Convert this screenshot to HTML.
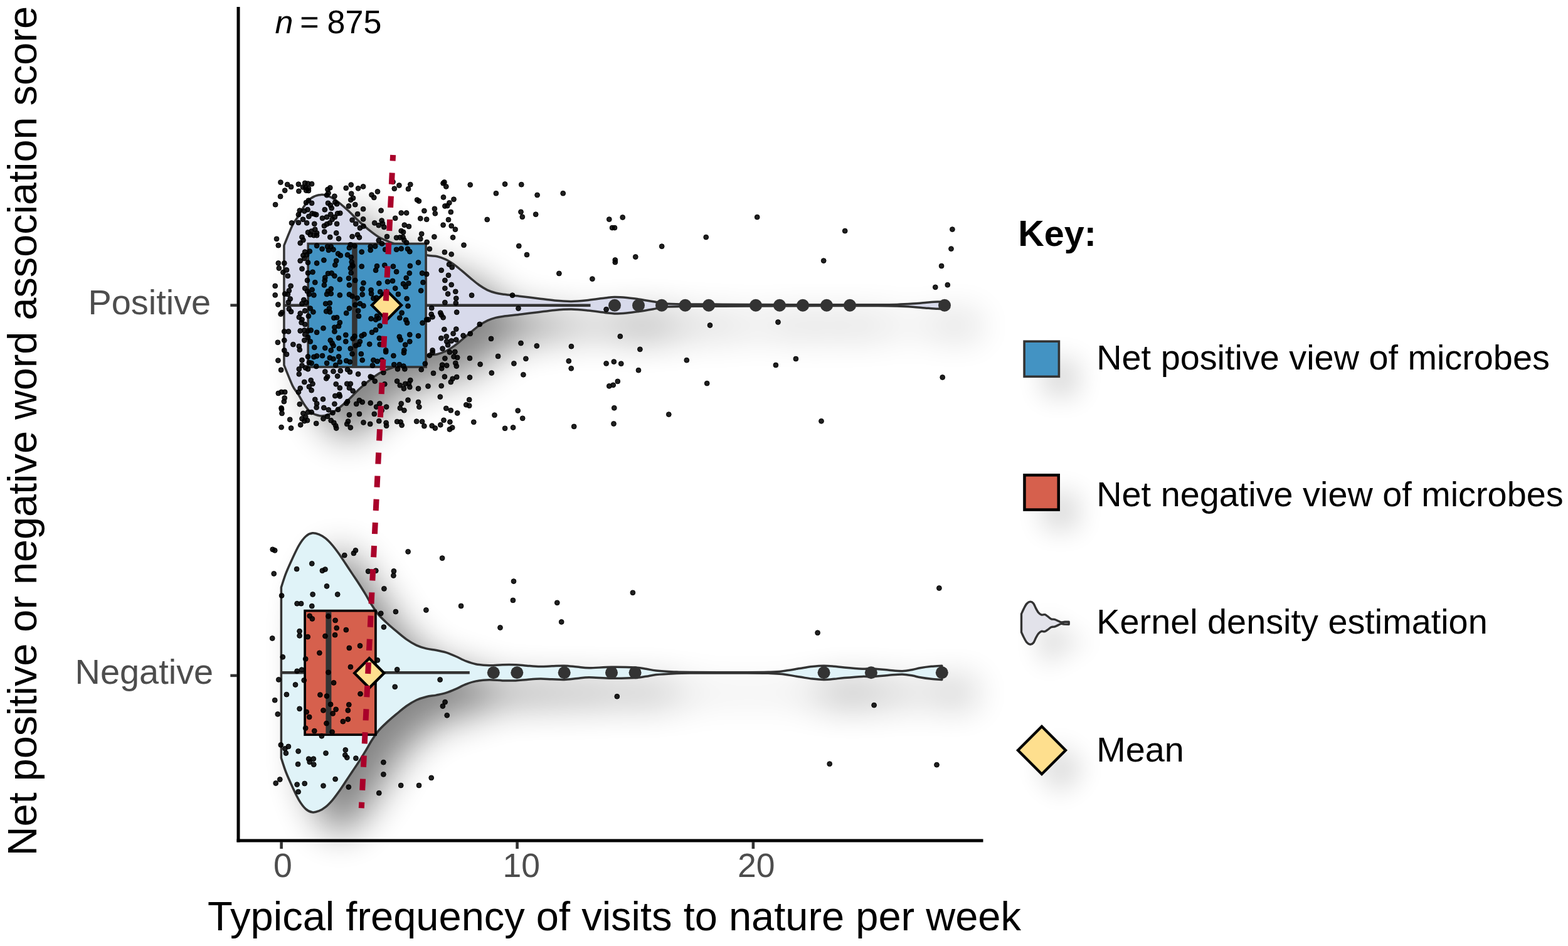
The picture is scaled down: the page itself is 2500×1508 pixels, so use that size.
<!DOCTYPE html><html><head><meta charset="utf-8"><title>Plot</title><style>
html,body{margin:0;padding:0;background:#fff;}body{width:2500px;height:1508px;overflow:hidden;}
svg{display:block;}text{font-family:"Liberation Sans",Arial,Helvetica,sans-serif;}
</style></head><body>
<svg width="2500" height="1508" viewBox="0 0 2500 1508">
<defs>
<filter id="sh" x="-20%" y="-30%" width="150%" height="170%"><feGaussianBlur in="SourceAlpha" stdDeviation="30"/><feOffset dx="40" dy="32" result="b"/><feComponentTransfer><feFuncA type="linear" slope="0.48"/></feComponentTransfer></filter>
<filter id="shl" x="-100%" y="-20%" width="320%" height="150%"><feGaussianBlur in="SourceAlpha" stdDeviation="20"/><feOffset dx="30" dy="30" result="b"/><feComponentTransfer><feFuncA type="linear" slope="0.14"/></feComponentTransfer></filter>
</defs>
<rect width="2500" height="1508" fill="#fff"/>
<g filter="url(#sh)"><path d="M452.9,391.4 C455.1,385.9 462.8,366.3 466.4,358.7 C470.0,351.1 471.6,351.1 474.8,346.0 C478.0,340.9 481.9,333.1 485.4,328.1 C488.9,323.1 491.5,318.9 495.9,316.0 C500.3,313.1 506.7,310.8 511.8,310.4 C516.9,310.0 521.8,311.7 526.5,313.8 C531.2,315.9 535.3,319.0 540.2,322.8 C545.1,326.6 550.7,331.6 556.0,336.5 C561.3,341.4 566.6,347.5 571.9,352.4 C577.2,357.3 582.4,361.9 587.7,366.1 C593.0,370.3 598.3,374.5 603.6,377.7 C608.9,380.9 613.3,382.6 619.4,385.1 C625.5,387.6 633.2,390.3 640.0,392.7 C646.8,395.1 653.2,397.4 660.0,399.7 C666.8,402.0 674.6,405.2 680.7,406.7 C686.8,408.2 691.9,407.6 696.8,408.7 C701.7,409.8 705.7,411.3 710.2,413.4 C714.7,415.5 719.1,418.4 723.6,421.5 C728.1,424.6 732.5,428.5 737.0,432.2 C741.5,435.9 745.9,439.9 750.4,443.6 C754.9,447.3 759.3,451.2 763.7,454.3 C768.1,457.4 772.5,460.2 777.0,462.3 C781.5,464.4 786.0,465.8 790.5,467.0 C795.0,468.2 797.3,468.4 804.0,469.3 C810.7,470.2 821.8,471.3 830.7,472.4 C839.6,473.5 848.6,474.6 857.5,475.7 C866.4,476.8 875.4,478.2 884.3,479.0 C893.2,479.8 902.1,480.5 911.0,480.4 C919.9,480.3 928.9,479.3 937.8,478.4 C946.7,477.5 957.6,475.8 964.6,475.0 C971.6,474.2 973.8,473.6 979.5,473.5 C985.2,473.4 992.5,473.9 999.0,474.5 C1005.5,475.1 1010.8,475.8 1018.4,476.9 C1026.0,478.0 1037.8,480.1 1044.7,481.3 C1051.6,482.5 1052.5,483.5 1060.0,484.1 C1067.5,484.7 1076.7,484.8 1090.0,485.0 C1103.3,485.2 1121.7,485.0 1140.0,485.1 C1158.3,485.2 1173.3,485.4 1200.0,485.5 C1226.7,485.6 1266.7,485.8 1300.0,485.8 C1333.3,485.9 1378.3,485.9 1400.0,485.8 C1421.7,485.7 1420.8,485.7 1430.0,485.4 C1439.2,485.1 1447.5,484.6 1455.0,484.1 C1462.5,483.6 1468.3,483.0 1475.0,482.5 C1481.7,482.0 1489.8,481.3 1495.0,481.1 C1500.2,480.9 1504.2,481.1 1506.0,481.1 L1506.0,492.3 C1504.2,492.3 1500.2,492.5 1495.0,492.3 C1489.8,492.1 1481.7,491.4 1475.0,490.9 C1468.3,490.4 1462.5,489.8 1455.0,489.3 C1447.5,488.8 1439.2,488.3 1430.0,488.0 C1420.8,487.7 1421.7,487.7 1400.0,487.6 C1378.3,487.5 1333.3,487.5 1300.0,487.6 C1266.7,487.6 1226.7,487.8 1200.0,487.9 C1173.3,488.0 1158.3,488.2 1140.0,488.3 C1121.7,488.4 1103.3,488.2 1090.0,488.4 C1076.7,488.6 1067.5,488.7 1060.0,489.3 C1052.5,489.9 1051.6,490.9 1044.7,492.1 C1037.8,493.3 1026.0,495.4 1018.4,496.5 C1010.8,497.6 1005.5,498.3 999.0,498.9 C992.5,499.5 985.2,500.0 979.5,499.9 C973.8,499.8 971.6,499.2 964.6,498.4 C957.6,497.6 946.7,495.9 937.8,495.0 C928.9,494.1 919.9,493.1 911.0,493.0 C902.1,492.9 893.2,493.6 884.3,494.4 C875.4,495.2 866.4,496.6 857.5,497.7 C848.6,498.8 839.6,499.9 830.7,501.0 C821.8,502.1 810.7,503.2 804.0,504.1 C797.3,505.0 795.0,505.2 790.5,506.4 C786.0,507.6 781.5,509.0 777.0,511.1 C772.5,513.2 768.1,516.0 763.7,519.1 C759.3,522.2 754.9,526.1 750.4,529.8 C745.9,533.5 741.5,537.5 737.0,541.2 C732.5,544.9 728.1,548.8 723.6,551.9 C719.1,555.0 714.7,557.9 710.2,560.0 C705.7,562.1 701.7,563.6 696.8,564.7 C691.9,565.8 686.8,565.2 680.7,566.7 C674.6,568.2 666.8,571.4 660.0,573.7 C653.2,576.0 646.8,578.3 640.0,580.7 C633.2,583.1 625.5,585.8 619.4,588.3 C613.3,590.8 608.9,592.5 603.6,595.7 C598.3,598.9 593.0,603.1 587.7,607.3 C582.4,611.5 577.2,616.1 571.9,621.0 C566.6,625.9 561.3,632.0 556.0,636.9 C550.7,641.8 545.1,646.8 540.2,650.6 C535.3,654.4 531.2,657.5 526.5,659.6 C521.8,661.7 516.9,663.4 511.8,663.0 C506.7,662.6 500.3,660.4 495.9,657.4 C491.5,654.4 488.9,650.3 485.4,645.3 C481.9,640.3 478.0,632.5 474.8,627.4 C471.6,622.3 470.0,622.3 466.4,614.7 C462.8,607.1 455.1,587.5 452.9,582.0 Z" fill="#000" stroke="#000" stroke-width="3"/><path d="M448.4,936.3 C449.6,932.6 452.8,921.8 455.8,914.1 C458.8,906.4 462.9,897.4 466.4,889.9 C469.9,882.4 473.4,874.6 476.9,868.8 C480.4,863.0 484.0,858.2 487.5,855.0 C491.0,851.8 494.5,850.3 498.0,849.8 C501.5,849.3 505.1,850.5 508.6,851.9 C512.1,853.3 515.6,855.4 519.1,858.2 C522.6,861.0 526.2,864.8 529.7,868.8 C533.2,872.8 536.7,877.6 540.2,882.5 C543.7,887.4 547.3,893.0 550.8,898.3 C554.3,903.6 557.8,908.8 561.3,914.1 C564.8,919.4 568.4,924.5 571.9,930.0 C575.4,935.5 579.0,941.1 582.5,946.9 C586.0,952.7 589.5,959.3 593.0,964.8 C596.5,970.3 599.8,975.4 603.7,980.0 C607.6,984.6 611.6,988.3 616.4,992.7 C621.1,997.1 626.9,1002.0 632.2,1006.4 C637.5,1010.8 642.7,1015.4 648.0,1019.1 C653.3,1022.8 658.6,1026.1 663.9,1028.6 C669.2,1031.1 674.4,1032.6 679.7,1033.9 C685.0,1035.2 690.2,1035.5 695.5,1036.5 C700.8,1037.5 706.0,1038.5 711.3,1040.2 C716.6,1041.9 721.9,1044.2 727.2,1046.5 C732.5,1048.8 737.7,1051.9 743.0,1053.9 C748.3,1055.9 752.6,1057.5 758.8,1058.7 C765.0,1059.9 773.0,1060.6 780.0,1060.8 C787.0,1061.0 794.0,1059.9 801.0,1059.7 C808.0,1059.5 815.5,1059.5 822.0,1059.7 C828.5,1060.0 833.5,1060.7 840.0,1061.2 C846.5,1061.7 854.6,1062.5 861.3,1062.6 C868.0,1062.7 873.6,1062.0 880.0,1061.8 C886.4,1061.6 893.0,1061.0 899.7,1061.2 C906.4,1061.4 913.4,1062.5 920.0,1063.1 C926.6,1063.7 930.2,1064.8 939.4,1064.8 C948.6,1064.8 962.8,1063.4 975.0,1063.3 C987.2,1063.2 1003.4,1063.5 1012.6,1064.0 C1021.8,1064.5 1024.4,1065.5 1030.0,1066.3 C1035.6,1067.1 1038.6,1068.2 1046.0,1069.0 C1053.4,1069.8 1065.4,1070.5 1074.4,1070.9 C1083.4,1071.3 1080.7,1071.4 1100.0,1071.5 C1119.3,1071.6 1169.2,1071.7 1190.0,1071.7 C1210.8,1071.7 1215.5,1071.6 1225.0,1071.3 C1234.5,1071.0 1238.4,1071.0 1246.8,1070.0 C1255.2,1069.0 1267.2,1066.8 1275.2,1065.5 C1283.2,1064.2 1288.6,1063.2 1295.0,1062.5 C1301.4,1061.8 1307.8,1061.2 1313.6,1061.2 C1319.4,1061.2 1324.6,1061.8 1330.0,1062.3 C1335.4,1062.8 1338.5,1063.3 1346.0,1064.0 C1353.5,1064.7 1367.5,1065.9 1374.7,1066.2 C1381.9,1066.5 1381.8,1065.5 1388.9,1065.8 C1396.0,1066.1 1409.0,1067.6 1417.3,1068.3 C1425.6,1069.0 1432.3,1069.8 1438.6,1069.7 C1444.9,1069.6 1450.3,1068.3 1455.0,1067.5 C1459.7,1066.7 1462.0,1065.7 1467.0,1064.8 C1472.0,1063.9 1479.2,1062.9 1485.0,1062.3 C1490.8,1061.7 1499.0,1061.4 1501.8,1061.2 L1501.8,1083.4 C1499.0,1083.2 1490.8,1082.9 1485.0,1082.3 C1479.2,1081.7 1472.0,1080.7 1467.0,1079.8 C1462.0,1078.9 1459.7,1077.9 1455.0,1077.1 C1450.3,1076.3 1444.9,1075.0 1438.6,1074.9 C1432.3,1074.8 1425.6,1075.6 1417.3,1076.3 C1409.0,1077.0 1396.0,1078.5 1388.9,1078.8 C1381.8,1079.1 1381.9,1078.1 1374.7,1078.4 C1367.5,1078.7 1353.5,1079.9 1346.0,1080.6 C1338.5,1081.2 1335.4,1081.8 1330.0,1082.3 C1324.6,1082.8 1319.4,1083.4 1313.6,1083.4 C1307.8,1083.4 1301.4,1082.8 1295.0,1082.1 C1288.6,1081.4 1283.2,1080.3 1275.2,1079.1 C1267.2,1077.8 1255.2,1075.6 1246.8,1074.6 C1238.4,1073.6 1234.5,1073.6 1225.0,1073.3 C1215.5,1073.0 1210.8,1072.9 1190.0,1072.9 C1169.2,1072.9 1119.3,1073.0 1100.0,1073.1 C1080.7,1073.2 1083.4,1073.3 1074.4,1073.7 C1065.4,1074.1 1053.4,1074.8 1046.0,1075.6 C1038.6,1076.4 1035.6,1077.5 1030.0,1078.3 C1024.4,1079.1 1021.8,1080.1 1012.6,1080.6 C1003.4,1081.1 987.2,1081.4 975.0,1081.3 C962.8,1081.2 948.6,1079.8 939.4,1079.8 C930.2,1079.8 926.6,1080.9 920.0,1081.5 C913.4,1082.1 906.4,1083.2 899.7,1083.4 C893.0,1083.6 886.4,1083.0 880.0,1082.8 C873.6,1082.6 868.0,1081.9 861.3,1082.0 C854.6,1082.1 846.5,1082.9 840.0,1083.4 C833.5,1083.9 828.5,1084.6 822.0,1084.9 C815.5,1085.1 808.0,1085.1 801.0,1084.9 C794.0,1084.7 787.0,1083.6 780.0,1083.8 C773.0,1084.0 765.0,1084.7 758.8,1085.9 C752.6,1087.0 748.3,1088.7 743.0,1090.7 C737.7,1092.7 732.5,1095.8 727.2,1098.1 C721.9,1100.4 716.6,1102.7 711.3,1104.4 C706.0,1106.1 700.8,1107.0 695.5,1108.1 C690.2,1109.1 685.0,1109.4 679.7,1110.7 C674.4,1112.0 669.2,1113.5 663.9,1116.0 C658.6,1118.5 653.3,1121.8 648.0,1125.5 C642.7,1129.2 637.5,1133.8 632.2,1138.2 C626.9,1142.6 621.1,1147.5 616.4,1151.9 C611.6,1156.3 607.6,1159.9 603.7,1164.6 C599.8,1169.2 596.5,1174.3 593.0,1179.8 C589.5,1185.3 586.0,1191.9 582.5,1197.7 C579.0,1203.5 575.4,1209.1 571.9,1214.6 C568.4,1220.1 564.8,1225.2 561.3,1230.5 C557.8,1235.8 554.3,1241.0 550.8,1246.3 C547.3,1251.6 543.7,1257.2 540.2,1262.1 C536.7,1267.0 533.2,1271.8 529.7,1275.8 C526.2,1279.8 522.6,1283.6 519.1,1286.4 C515.6,1289.2 512.1,1291.3 508.6,1292.7 C505.1,1294.1 501.5,1295.3 498.0,1294.8 C494.5,1294.3 491.0,1292.8 487.5,1289.6 C484.0,1286.4 480.4,1281.6 476.9,1275.8 C473.4,1270.0 469.9,1262.2 466.4,1254.7 C462.9,1247.2 458.8,1238.2 455.8,1230.5 C452.8,1222.8 449.6,1212.0 448.4,1208.3 Z" fill="#000" stroke="#000" stroke-width="3"/>
<line x1="679" y1="486.7" x2="1506" y2="486.7" stroke="#000" stroke-width="5"/>
<line x1="599" y1="1072.3" x2="1502" y2="1072.3" stroke="#000" stroke-width="5"/>
<circle cx="980" cy="486.7" r="10"/>
<circle cx="1018" cy="486.7" r="10"/>
<circle cx="1055" cy="486.7" r="10"/>
<circle cx="1092.5" cy="486.7" r="10"/>
<circle cx="1130" cy="486.7" r="10"/>
<circle cx="1205" cy="486.7" r="10"/>
<circle cx="1243" cy="486.7" r="10"/>
<circle cx="1280" cy="486.7" r="10"/>
<circle cx="1318" cy="486.7" r="10"/>
<circle cx="1355" cy="486.7" r="10"/>
<circle cx="1506" cy="486.7" r="10"/>
<circle cx="786.8" cy="1072.3" r="10"/>
<circle cx="824.3" cy="1072.3" r="10"/>
<circle cx="899.7" cy="1072.3" r="10"/>
<circle cx="975" cy="1072.3" r="10"/>
<circle cx="1012.6" cy="1072.3" r="10"/>
<circle cx="1313.6" cy="1072.3" r="10"/>
<circle cx="1388.9" cy="1072.3" r="10"/>
<circle cx="1501.8" cy="1072.3" r="10"/>
</g>
<path d="M452.9,391.4 C455.1,385.9 462.8,366.3 466.4,358.7 C470.0,351.1 471.6,351.1 474.8,346.0 C478.0,340.9 481.9,333.1 485.4,328.1 C488.9,323.1 491.5,318.9 495.9,316.0 C500.3,313.1 506.7,310.8 511.8,310.4 C516.9,310.0 521.8,311.7 526.5,313.8 C531.2,315.9 535.3,319.0 540.2,322.8 C545.1,326.6 550.7,331.6 556.0,336.5 C561.3,341.4 566.6,347.5 571.9,352.4 C577.2,357.3 582.4,361.9 587.7,366.1 C593.0,370.3 598.3,374.5 603.6,377.7 C608.9,380.9 613.3,382.6 619.4,385.1 C625.5,387.6 633.2,390.3 640.0,392.7 C646.8,395.1 653.2,397.4 660.0,399.7 C666.8,402.0 674.6,405.2 680.7,406.7 C686.8,408.2 691.9,407.6 696.8,408.7 C701.7,409.8 705.7,411.3 710.2,413.4 C714.7,415.5 719.1,418.4 723.6,421.5 C728.1,424.6 732.5,428.5 737.0,432.2 C741.5,435.9 745.9,439.9 750.4,443.6 C754.9,447.3 759.3,451.2 763.7,454.3 C768.1,457.4 772.5,460.2 777.0,462.3 C781.5,464.4 786.0,465.8 790.5,467.0 C795.0,468.2 797.3,468.4 804.0,469.3 C810.7,470.2 821.8,471.3 830.7,472.4 C839.6,473.5 848.6,474.6 857.5,475.7 C866.4,476.8 875.4,478.2 884.3,479.0 C893.2,479.8 902.1,480.5 911.0,480.4 C919.9,480.3 928.9,479.3 937.8,478.4 C946.7,477.5 957.6,475.8 964.6,475.0 C971.6,474.2 973.8,473.6 979.5,473.5 C985.2,473.4 992.5,473.9 999.0,474.5 C1005.5,475.1 1010.8,475.8 1018.4,476.9 C1026.0,478.0 1037.8,480.1 1044.7,481.3 C1051.6,482.5 1052.5,483.5 1060.0,484.1 C1067.5,484.7 1076.7,484.8 1090.0,485.0 C1103.3,485.2 1121.7,485.0 1140.0,485.1 C1158.3,485.2 1173.3,485.4 1200.0,485.5 C1226.7,485.6 1266.7,485.8 1300.0,485.8 C1333.3,485.9 1378.3,485.9 1400.0,485.8 C1421.7,485.7 1420.8,485.7 1430.0,485.4 C1439.2,485.1 1447.5,484.6 1455.0,484.1 C1462.5,483.6 1468.3,483.0 1475.0,482.5 C1481.7,482.0 1489.8,481.3 1495.0,481.1 C1500.2,480.9 1504.2,481.1 1506.0,481.1 L1506.0,492.3 C1504.2,492.3 1500.2,492.5 1495.0,492.3 C1489.8,492.1 1481.7,491.4 1475.0,490.9 C1468.3,490.4 1462.5,489.8 1455.0,489.3 C1447.5,488.8 1439.2,488.3 1430.0,488.0 C1420.8,487.7 1421.7,487.7 1400.0,487.6 C1378.3,487.5 1333.3,487.5 1300.0,487.6 C1266.7,487.6 1226.7,487.8 1200.0,487.9 C1173.3,488.0 1158.3,488.2 1140.0,488.3 C1121.7,488.4 1103.3,488.2 1090.0,488.4 C1076.7,488.6 1067.5,488.7 1060.0,489.3 C1052.5,489.9 1051.6,490.9 1044.7,492.1 C1037.8,493.3 1026.0,495.4 1018.4,496.5 C1010.8,497.6 1005.5,498.3 999.0,498.9 C992.5,499.5 985.2,500.0 979.5,499.9 C973.8,499.8 971.6,499.2 964.6,498.4 C957.6,497.6 946.7,495.9 937.8,495.0 C928.9,494.1 919.9,493.1 911.0,493.0 C902.1,492.9 893.2,493.6 884.3,494.4 C875.4,495.2 866.4,496.6 857.5,497.7 C848.6,498.8 839.6,499.9 830.7,501.0 C821.8,502.1 810.7,503.2 804.0,504.1 C797.3,505.0 795.0,505.2 790.5,506.4 C786.0,507.6 781.5,509.0 777.0,511.1 C772.5,513.2 768.1,516.0 763.7,519.1 C759.3,522.2 754.9,526.1 750.4,529.8 C745.9,533.5 741.5,537.5 737.0,541.2 C732.5,544.9 728.1,548.8 723.6,551.9 C719.1,555.0 714.7,557.9 710.2,560.0 C705.7,562.1 701.7,563.6 696.8,564.7 C691.9,565.8 686.8,565.2 680.7,566.7 C674.6,568.2 666.8,571.4 660.0,573.7 C653.2,576.0 646.8,578.3 640.0,580.7 C633.2,583.1 625.5,585.8 619.4,588.3 C613.3,590.8 608.9,592.5 603.6,595.7 C598.3,598.9 593.0,603.1 587.7,607.3 C582.4,611.5 577.2,616.1 571.9,621.0 C566.6,625.9 561.3,632.0 556.0,636.9 C550.7,641.8 545.1,646.8 540.2,650.6 C535.3,654.4 531.2,657.5 526.5,659.6 C521.8,661.7 516.9,663.4 511.8,663.0 C506.7,662.6 500.3,660.4 495.9,657.4 C491.5,654.4 488.9,650.3 485.4,645.3 C481.9,640.3 478.0,632.5 474.8,627.4 C471.6,622.3 470.0,622.3 466.4,614.7 C462.8,607.1 455.1,587.5 452.9,582.0 Z" fill="#D8DAEB" stroke="#333333" stroke-width="3.5" stroke-linejoin="round"/>
<path d="M448.4,936.3 C449.6,932.6 452.8,921.8 455.8,914.1 C458.8,906.4 462.9,897.4 466.4,889.9 C469.9,882.4 473.4,874.6 476.9,868.8 C480.4,863.0 484.0,858.2 487.5,855.0 C491.0,851.8 494.5,850.3 498.0,849.8 C501.5,849.3 505.1,850.5 508.6,851.9 C512.1,853.3 515.6,855.4 519.1,858.2 C522.6,861.0 526.2,864.8 529.7,868.8 C533.2,872.8 536.7,877.6 540.2,882.5 C543.7,887.4 547.3,893.0 550.8,898.3 C554.3,903.6 557.8,908.8 561.3,914.1 C564.8,919.4 568.4,924.5 571.9,930.0 C575.4,935.5 579.0,941.1 582.5,946.9 C586.0,952.7 589.5,959.3 593.0,964.8 C596.5,970.3 599.8,975.4 603.7,980.0 C607.6,984.6 611.6,988.3 616.4,992.7 C621.1,997.1 626.9,1002.0 632.2,1006.4 C637.5,1010.8 642.7,1015.4 648.0,1019.1 C653.3,1022.8 658.6,1026.1 663.9,1028.6 C669.2,1031.1 674.4,1032.6 679.7,1033.9 C685.0,1035.2 690.2,1035.5 695.5,1036.5 C700.8,1037.5 706.0,1038.5 711.3,1040.2 C716.6,1041.9 721.9,1044.2 727.2,1046.5 C732.5,1048.8 737.7,1051.9 743.0,1053.9 C748.3,1055.9 752.6,1057.5 758.8,1058.7 C765.0,1059.9 773.0,1060.6 780.0,1060.8 C787.0,1061.0 794.0,1059.9 801.0,1059.7 C808.0,1059.5 815.5,1059.5 822.0,1059.7 C828.5,1060.0 833.5,1060.7 840.0,1061.2 C846.5,1061.7 854.6,1062.5 861.3,1062.6 C868.0,1062.7 873.6,1062.0 880.0,1061.8 C886.4,1061.6 893.0,1061.0 899.7,1061.2 C906.4,1061.4 913.4,1062.5 920.0,1063.1 C926.6,1063.7 930.2,1064.8 939.4,1064.8 C948.6,1064.8 962.8,1063.4 975.0,1063.3 C987.2,1063.2 1003.4,1063.5 1012.6,1064.0 C1021.8,1064.5 1024.4,1065.5 1030.0,1066.3 C1035.6,1067.1 1038.6,1068.2 1046.0,1069.0 C1053.4,1069.8 1065.4,1070.5 1074.4,1070.9 C1083.4,1071.3 1080.7,1071.4 1100.0,1071.5 C1119.3,1071.6 1169.2,1071.7 1190.0,1071.7 C1210.8,1071.7 1215.5,1071.6 1225.0,1071.3 C1234.5,1071.0 1238.4,1071.0 1246.8,1070.0 C1255.2,1069.0 1267.2,1066.8 1275.2,1065.5 C1283.2,1064.2 1288.6,1063.2 1295.0,1062.5 C1301.4,1061.8 1307.8,1061.2 1313.6,1061.2 C1319.4,1061.2 1324.6,1061.8 1330.0,1062.3 C1335.4,1062.8 1338.5,1063.3 1346.0,1064.0 C1353.5,1064.7 1367.5,1065.9 1374.7,1066.2 C1381.9,1066.5 1381.8,1065.5 1388.9,1065.8 C1396.0,1066.1 1409.0,1067.6 1417.3,1068.3 C1425.6,1069.0 1432.3,1069.8 1438.6,1069.7 C1444.9,1069.6 1450.3,1068.3 1455.0,1067.5 C1459.7,1066.7 1462.0,1065.7 1467.0,1064.8 C1472.0,1063.9 1479.2,1062.9 1485.0,1062.3 C1490.8,1061.7 1499.0,1061.4 1501.8,1061.2 L1501.8,1083.4 C1499.0,1083.2 1490.8,1082.9 1485.0,1082.3 C1479.2,1081.7 1472.0,1080.7 1467.0,1079.8 C1462.0,1078.9 1459.7,1077.9 1455.0,1077.1 C1450.3,1076.3 1444.9,1075.0 1438.6,1074.9 C1432.3,1074.8 1425.6,1075.6 1417.3,1076.3 C1409.0,1077.0 1396.0,1078.5 1388.9,1078.8 C1381.8,1079.1 1381.9,1078.1 1374.7,1078.4 C1367.5,1078.7 1353.5,1079.9 1346.0,1080.6 C1338.5,1081.2 1335.4,1081.8 1330.0,1082.3 C1324.6,1082.8 1319.4,1083.4 1313.6,1083.4 C1307.8,1083.4 1301.4,1082.8 1295.0,1082.1 C1288.6,1081.4 1283.2,1080.3 1275.2,1079.1 C1267.2,1077.8 1255.2,1075.6 1246.8,1074.6 C1238.4,1073.6 1234.5,1073.6 1225.0,1073.3 C1215.5,1073.0 1210.8,1072.9 1190.0,1072.9 C1169.2,1072.9 1119.3,1073.0 1100.0,1073.1 C1080.7,1073.2 1083.4,1073.3 1074.4,1073.7 C1065.4,1074.1 1053.4,1074.8 1046.0,1075.6 C1038.6,1076.4 1035.6,1077.5 1030.0,1078.3 C1024.4,1079.1 1021.8,1080.1 1012.6,1080.6 C1003.4,1081.1 987.2,1081.4 975.0,1081.3 C962.8,1081.2 948.6,1079.8 939.4,1079.8 C930.2,1079.8 926.6,1080.9 920.0,1081.5 C913.4,1082.1 906.4,1083.2 899.7,1083.4 C893.0,1083.6 886.4,1083.0 880.0,1082.8 C873.6,1082.6 868.0,1081.9 861.3,1082.0 C854.6,1082.1 846.5,1082.9 840.0,1083.4 C833.5,1083.9 828.5,1084.6 822.0,1084.9 C815.5,1085.1 808.0,1085.1 801.0,1084.9 C794.0,1084.7 787.0,1083.6 780.0,1083.8 C773.0,1084.0 765.0,1084.7 758.8,1085.9 C752.6,1087.0 748.3,1088.7 743.0,1090.7 C737.7,1092.7 732.5,1095.8 727.2,1098.1 C721.9,1100.4 716.6,1102.7 711.3,1104.4 C706.0,1106.1 700.8,1107.0 695.5,1108.1 C690.2,1109.1 685.0,1109.4 679.7,1110.7 C674.4,1112.0 669.2,1113.5 663.9,1116.0 C658.6,1118.5 653.3,1121.8 648.0,1125.5 C642.7,1129.2 637.5,1133.8 632.2,1138.2 C626.9,1142.6 621.1,1147.5 616.4,1151.9 C611.6,1156.3 607.6,1159.9 603.7,1164.6 C599.8,1169.2 596.5,1174.3 593.0,1179.8 C589.5,1185.3 586.0,1191.9 582.5,1197.7 C579.0,1203.5 575.4,1209.1 571.9,1214.6 C568.4,1220.1 564.8,1225.2 561.3,1230.5 C557.8,1235.8 554.3,1241.0 550.8,1246.3 C547.3,1251.6 543.7,1257.2 540.2,1262.1 C536.7,1267.0 533.2,1271.8 529.7,1275.8 C526.2,1279.8 522.6,1283.6 519.1,1286.4 C515.6,1289.2 512.1,1291.3 508.6,1292.7 C505.1,1294.1 501.5,1295.3 498.0,1294.8 C494.5,1294.3 491.0,1292.8 487.5,1289.6 C484.0,1286.4 480.4,1281.6 476.9,1275.8 C473.4,1270.0 469.9,1262.2 466.4,1254.7 C462.9,1247.2 458.8,1238.2 455.8,1230.5 C452.8,1222.8 449.6,1212.0 448.4,1208.3 Z" fill="#E0F3F8" stroke="#333333" stroke-width="3.5" stroke-linejoin="round"/>
<line x1="453" y1="486.7" x2="491" y2="486.7" stroke="#333" stroke-width="4.5"/>
<line x1="679" y1="486.7" x2="941.5" y2="486.7" stroke="#333" stroke-width="4.5"/>
<line x1="448.4" y1="1072.3" x2="486" y2="1072.3" stroke="#333" stroke-width="4.5"/>
<line x1="599" y1="1072.3" x2="748.8" y2="1072.3" stroke="#333" stroke-width="4.5"/>
<rect x="491.2" y="388.5" width="187.9" height="196.5" fill="#4393C3" stroke="#333" stroke-width="3.6"/>
<line x1="565.4" y1="390.3" x2="565.4" y2="583.2" stroke="#333" stroke-width="8.5"/>
<rect x="486.1" y="973.6" width="112.8" height="197.6" fill="#D6604D" stroke="#000" stroke-width="3.7"/>
<line x1="523.9" y1="975.4" x2="523.9" y2="1169.4" stroke="#333" stroke-width="9"/>
<circle cx="980" cy="486.7" r="10" fill="#333"/>
<circle cx="1018" cy="486.7" r="10" fill="#333"/>
<circle cx="1055" cy="486.7" r="10" fill="#333"/>
<circle cx="1092.5" cy="486.7" r="10" fill="#333"/>
<circle cx="1130" cy="486.7" r="10" fill="#333"/>
<circle cx="1205" cy="486.7" r="10" fill="#333"/>
<circle cx="1243" cy="486.7" r="10" fill="#333"/>
<circle cx="1280" cy="486.7" r="10" fill="#333"/>
<circle cx="1318" cy="486.7" r="10" fill="#333"/>
<circle cx="1355" cy="486.7" r="10" fill="#333"/>
<circle cx="1506" cy="486.7" r="10" fill="#333"/>
<circle cx="786.8" cy="1072.3" r="10" fill="#333"/>
<circle cx="824.3" cy="1072.3" r="10" fill="#333"/>
<circle cx="899.7" cy="1072.3" r="10" fill="#333"/>
<circle cx="975" cy="1072.3" r="10" fill="#333"/>
<circle cx="1012.6" cy="1072.3" r="10" fill="#333"/>
<circle cx="1313.6" cy="1072.3" r="10" fill="#333"/>
<circle cx="1388.9" cy="1072.3" r="10" fill="#333"/>
<circle cx="1501.8" cy="1072.3" r="10" fill="#333"/>
<g fill="#000" fill-opacity="0.88" stroke="#000" stroke-width="1">
<circle cx="447.4" cy="290.6" r="3.9"/>
<circle cx="458.2" cy="294.1" r="3.9"/>
<circle cx="464.1" cy="297.9" r="3.9"/>
<circle cx="454.2" cy="303.6" r="3.9"/>
<circle cx="475.9" cy="293.7" r="3.9"/>
<circle cx="476.4" cy="304.7" r="3.9"/>
<circle cx="486.2" cy="291.8" r="3.9"/>
<circle cx="491.0" cy="292.7" r="3.9"/>
<circle cx="483.0" cy="298.4" r="3.9"/>
<circle cx="487.2" cy="298.8" r="3.9"/>
<circle cx="491.9" cy="300.3" r="3.9"/>
<circle cx="488.1" cy="303.6" r="3.9"/>
<circle cx="491.9" cy="304.0" r="3.9"/>
<circle cx="497.1" cy="293.2" r="3.9"/>
<circle cx="447.1" cy="313.2" r="3.9"/>
<circle cx="439.1" cy="326.2" r="3.9"/>
<circle cx="526.3" cy="299.3" r="3.9"/>
<circle cx="522.5" cy="302.1" r="3.9"/>
<circle cx="523.5" cy="307.8" r="3.9"/>
<circle cx="521.1" cy="311.1" r="3.9"/>
<circle cx="533.4" cy="312.8" r="3.9"/>
<circle cx="551.7" cy="299.8" r="3.9"/>
<circle cx="559.7" cy="294.6" r="3.9"/>
<circle cx="571.1" cy="300.3" r="3.9"/>
<circle cx="579.1" cy="297.4" r="3.9"/>
<circle cx="560.2" cy="308.7" r="3.9"/>
<circle cx="563.0" cy="315.8" r="3.9"/>
<circle cx="559.3" cy="318.6" r="3.9"/>
<circle cx="566.3" cy="326.2" r="3.9"/>
<circle cx="556.0" cy="328.5" r="3.9"/>
<circle cx="579.1" cy="333.2" r="3.9"/>
<circle cx="570.1" cy="341.2" r="3.9"/>
<circle cx="579.1" cy="349.3" r="3.9"/>
<circle cx="491.9" cy="319.6" r="3.9"/>
<circle cx="497.1" cy="323.8" r="3.9"/>
<circle cx="488.1" cy="322.9" r="3.9"/>
<circle cx="523.0" cy="323.8" r="3.9"/>
<circle cx="526.8" cy="327.1" r="3.9"/>
<circle cx="537.1" cy="325.2" r="3.9"/>
<circle cx="534.3" cy="322.4" r="3.9"/>
<circle cx="517.8" cy="334.2" r="3.9"/>
<circle cx="528.7" cy="331.8" r="3.9"/>
<circle cx="477.8" cy="335.6" r="3.9"/>
<circle cx="485.3" cy="336.5" r="3.9"/>
<circle cx="490.5" cy="334.2" r="3.9"/>
<circle cx="475.9" cy="342.2" r="3.9"/>
<circle cx="497.6" cy="340.3" r="3.9"/>
<circle cx="504.2" cy="342.2" r="3.9"/>
<circle cx="492.4" cy="345.0" r="3.9"/>
<circle cx="501.3" cy="341.2" r="3.9"/>
<circle cx="514.0" cy="347.8" r="3.9"/>
<circle cx="521.1" cy="346.0" r="3.9"/>
<circle cx="527.2" cy="341.7" r="3.9"/>
<circle cx="533.8" cy="346.0" r="3.9"/>
<circle cx="538.1" cy="340.3" r="3.9"/>
<circle cx="542.3" cy="339.8" r="3.9"/>
<circle cx="529.6" cy="349.7" r="3.9"/>
<circle cx="525.8" cy="355.4" r="3.9"/>
<circle cx="521.1" cy="357.3" r="3.9"/>
<circle cx="516.9" cy="360.1" r="3.9"/>
<circle cx="537.1" cy="356.8" r="3.9"/>
<circle cx="483.0" cy="349.7" r="3.9"/>
<circle cx="489.1" cy="355.4" r="3.9"/>
<circle cx="475.9" cy="354.9" r="3.9"/>
<circle cx="465.0" cy="355.4" r="3.9"/>
<circle cx="501.3" cy="356.8" r="3.9"/>
<circle cx="491.0" cy="370.5" r="3.9"/>
<circle cx="496.6" cy="368.6" r="3.9"/>
<circle cx="502.3" cy="365.7" r="3.9"/>
<circle cx="505.1" cy="371.4" r="3.9"/>
<circle cx="500.4" cy="375.2" r="3.9"/>
<circle cx="494.7" cy="374.2" r="3.9"/>
<circle cx="505.1" cy="375.2" r="3.9"/>
<circle cx="481.5" cy="378.0" r="3.9"/>
<circle cx="483.4" cy="382.7" r="3.9"/>
<circle cx="478.7" cy="387.4" r="3.9"/>
<circle cx="517.3" cy="369.5" r="3.9"/>
<circle cx="526.3" cy="378.0" r="3.9"/>
<circle cx="536.2" cy="371.4" r="3.9"/>
<circle cx="540.0" cy="380.4" r="3.9"/>
<circle cx="561.6" cy="350.7" r="3.9"/>
<circle cx="567.3" cy="356.8" r="3.9"/>
<circle cx="573.9" cy="363.4" r="3.9"/>
<circle cx="579.5" cy="360.6" r="3.9"/>
<circle cx="561.6" cy="377.1" r="3.9"/>
<circle cx="570.1" cy="374.2" r="3.9"/>
<circle cx="572.9" cy="378.5" r="3.9"/>
<circle cx="441.0" cy="380.8" r="3.9"/>
<circle cx="443.8" cy="391.2" r="3.9"/>
<circle cx="505.1" cy="391.7" r="3.9"/>
<circle cx="513.6" cy="396.8" r="3.9"/>
<circle cx="522.1" cy="393.1" r="3.9"/>
<circle cx="527.7" cy="393.1" r="3.9"/>
<circle cx="523.9" cy="398.7" r="3.9"/>
<circle cx="531.5" cy="397.8" r="3.9"/>
<circle cx="558.8" cy="390.2" r="3.9"/>
<circle cx="565.4" cy="392.1" r="3.9"/>
<circle cx="556.9" cy="395.0" r="3.9"/>
<circle cx="576.7" cy="401.6" r="3.9"/>
<circle cx="539.0" cy="404.4" r="3.9"/>
<circle cx="542.8" cy="407.2" r="3.9"/>
<circle cx="554.1" cy="406.3" r="3.9"/>
<circle cx="559.7" cy="410.0" r="3.9"/>
<circle cx="486.2" cy="401.6" r="3.9"/>
<circle cx="493.8" cy="400.6" r="3.9"/>
<circle cx="483.4" cy="407.2" r="3.9"/>
<circle cx="489.1" cy="406.3" r="3.9"/>
<circle cx="485.3" cy="411.9" r="3.9"/>
<circle cx="516.4" cy="414.7" r="3.9"/>
<circle cx="536.2" cy="415.7" r="3.9"/>
<circle cx="560.7" cy="417.6" r="3.9"/>
<circle cx="478.7" cy="415.7" r="3.9"/>
<circle cx="443.8" cy="419.5" r="3.9"/>
<circle cx="453.3" cy="419.5" r="3.9"/>
<circle cx="505.1" cy="419.5" r="3.9"/>
<circle cx="491.0" cy="418.5" r="3.9"/>
<circle cx="626.5" cy="289.9" r="3.9"/>
<circle cx="636.4" cy="295.5" r="3.9"/>
<circle cx="628.8" cy="300.7" r="3.9"/>
<circle cx="654.3" cy="294.1" r="3.9"/>
<circle cx="651.0" cy="301.2" r="3.9"/>
<circle cx="602.0" cy="305.4" r="3.9"/>
<circle cx="592.5" cy="310.6" r="3.9"/>
<circle cx="596.3" cy="314.9" r="3.9"/>
<circle cx="708.4" cy="290.4" r="3.9"/>
<circle cx="706.6" cy="292.2" r="3.9"/>
<circle cx="711.3" cy="297.4" r="3.9"/>
<circle cx="665.1" cy="318.6" r="3.9"/>
<circle cx="667.9" cy="320.5" r="3.9"/>
<circle cx="707.0" cy="314.4" r="3.9"/>
<circle cx="723.5" cy="317.7" r="3.9"/>
<circle cx="716.4" cy="323.3" r="3.9"/>
<circle cx="709.4" cy="328.5" r="3.9"/>
<circle cx="713.2" cy="328.1" r="3.9"/>
<circle cx="718.8" cy="338.0" r="3.9"/>
<circle cx="607.6" cy="335.6" r="3.9"/>
<circle cx="639.7" cy="339.4" r="3.9"/>
<circle cx="648.1" cy="339.4" r="3.9"/>
<circle cx="676.4" cy="336.1" r="3.9"/>
<circle cx="692.9" cy="332.8" r="3.9"/>
<circle cx="693.8" cy="340.3" r="3.9"/>
<circle cx="630.2" cy="347.8" r="3.9"/>
<circle cx="670.3" cy="348.3" r="3.9"/>
<circle cx="680.2" cy="349.7" r="3.9"/>
<circle cx="715.0" cy="350.2" r="3.9"/>
<circle cx="597.2" cy="355.4" r="3.9"/>
<circle cx="608.6" cy="351.6" r="3.9"/>
<circle cx="603.8" cy="359.2" r="3.9"/>
<circle cx="610.0" cy="356.3" r="3.9"/>
<circle cx="612.3" cy="362.0" r="3.9"/>
<circle cx="644.8" cy="358.7" r="3.9"/>
<circle cx="651.9" cy="361.0" r="3.9"/>
<circle cx="706.6" cy="358.7" r="3.9"/>
<circle cx="719.7" cy="360.1" r="3.9"/>
<circle cx="725.9" cy="365.7" r="3.9"/>
<circle cx="639.7" cy="368.1" r="3.9"/>
<circle cx="643.0" cy="370.0" r="3.9"/>
<circle cx="672.2" cy="372.8" r="3.9"/>
<circle cx="692.4" cy="377.5" r="3.9"/>
<circle cx="722.1" cy="378.5" r="3.9"/>
<circle cx="617.0" cy="377.1" r="3.9"/>
<circle cx="632.1" cy="378.9" r="3.9"/>
<circle cx="637.8" cy="378.5" r="3.9"/>
<circle cx="642.5" cy="378.0" r="3.9"/>
<circle cx="644.4" cy="382.7" r="3.9"/>
<circle cx="648.1" cy="386.9" r="3.9"/>
<circle cx="670.3" cy="380.8" r="3.9"/>
<circle cx="680.6" cy="386.0" r="3.9"/>
<circle cx="603.8" cy="383.2" r="3.9"/>
<circle cx="609.0" cy="388.4" r="3.9"/>
<circle cx="739.5" cy="390.7" r="3.9"/>
<circle cx="684.9" cy="396.8" r="3.9"/>
<circle cx="708.9" cy="402.0" r="3.9"/>
<circle cx="719.7" cy="405.3" r="3.9"/>
<circle cx="590.7" cy="393.1" r="3.9"/>
<circle cx="598.2" cy="392.6" r="3.9"/>
<circle cx="590.7" cy="398.7" r="3.9"/>
<circle cx="614.2" cy="397.8" r="3.9"/>
<circle cx="632.1" cy="397.8" r="3.9"/>
<circle cx="639.7" cy="396.4" r="3.9"/>
<circle cx="650.0" cy="396.8" r="3.9"/>
<circle cx="653.3" cy="401.1" r="3.9"/>
<circle cx="667.0" cy="418.5" r="3.9"/>
<circle cx="534.3" cy="422.4" r="3.9"/>
<circle cx="561.6" cy="422.4" r="3.9"/>
<circle cx="576.7" cy="424.7" r="3.9"/>
<circle cx="438.7" cy="455.8" r="3.9"/>
<circle cx="438.7" cy="470.4" r="3.9"/>
<circle cx="443.4" cy="485.5" r="3.9"/>
<circle cx="447.6" cy="500.6" r="3.9"/>
<circle cx="449.5" cy="498.2" r="3.9"/>
<circle cx="442.9" cy="545.8" r="3.9"/>
<circle cx="444.8" cy="427.5" r="3.9"/>
<circle cx="451.4" cy="434.1" r="3.9"/>
<circle cx="457.0" cy="430.4" r="3.9"/>
<circle cx="458.9" cy="439.8" r="3.9"/>
<circle cx="463.6" cy="455.8" r="3.9"/>
<circle cx="460.8" cy="463.3" r="3.9"/>
<circle cx="454.2" cy="468.5" r="3.9"/>
<circle cx="458.9" cy="469.0" r="3.9"/>
<circle cx="462.7" cy="476.5" r="3.9"/>
<circle cx="459.9" cy="481.7" r="3.9"/>
<circle cx="460.8" cy="492.6" r="3.9"/>
<circle cx="464.1" cy="496.8" r="3.9"/>
<circle cx="453.3" cy="528.4" r="3.9"/>
<circle cx="459.9" cy="528.4" r="3.9"/>
<circle cx="453.3" cy="542.5" r="3.9"/>
<circle cx="453.3" cy="558.5" r="3.9"/>
<circle cx="481.5" cy="428.5" r="3.9"/>
<circle cx="491.0" cy="435.1" r="3.9"/>
<circle cx="498.5" cy="433.7" r="3.9"/>
<circle cx="490.0" cy="446.9" r="3.9"/>
<circle cx="486.2" cy="459.6" r="3.9"/>
<circle cx="490.0" cy="464.3" r="3.9"/>
<circle cx="497.6" cy="461.9" r="3.9"/>
<circle cx="492.8" cy="469.0" r="3.9"/>
<circle cx="500.4" cy="470.4" r="3.9"/>
<circle cx="484.4" cy="478.0" r="3.9"/>
<circle cx="488.1" cy="482.2" r="3.9"/>
<circle cx="481.5" cy="484.1" r="3.9"/>
<circle cx="478.7" cy="499.6" r="3.9"/>
<circle cx="486.2" cy="495.4" r="3.9"/>
<circle cx="491.9" cy="503.9" r="3.9"/>
<circle cx="476.8" cy="505.7" r="3.9"/>
<circle cx="481.5" cy="509.5" r="3.9"/>
<circle cx="480.6" cy="514.2" r="3.9"/>
<circle cx="486.2" cy="517.1" r="3.9"/>
<circle cx="478.7" cy="527.4" r="3.9"/>
<circle cx="485.3" cy="526.5" r="3.9"/>
<circle cx="491.0" cy="527.4" r="3.9"/>
<circle cx="495.7" cy="526.5" r="3.9"/>
<circle cx="486.2" cy="533.1" r="3.9"/>
<circle cx="491.0" cy="537.8" r="3.9"/>
<circle cx="485.3" cy="542.5" r="3.9"/>
<circle cx="494.7" cy="544.4" r="3.9"/>
<circle cx="467.4" cy="549.1" r="3.9"/>
<circle cx="476.8" cy="551.9" r="3.9"/>
<circle cx="477.8" cy="557.6" r="3.9"/>
<circle cx="502.3" cy="450.2" r="3.9"/>
<circle cx="523.0" cy="436.0" r="3.9"/>
<circle cx="528.7" cy="435.5" r="3.9"/>
<circle cx="533.4" cy="439.8" r="3.9"/>
<circle cx="541.8" cy="445.4" r="3.9"/>
<circle cx="518.3" cy="442.6" r="3.9"/>
<circle cx="517.8" cy="447.3" r="3.9"/>
<circle cx="516.9" cy="454.4" r="3.9"/>
<circle cx="527.7" cy="460.5" r="3.9"/>
<circle cx="523.0" cy="464.3" r="3.9"/>
<circle cx="521.1" cy="469.0" r="3.9"/>
<circle cx="527.7" cy="468.1" r="3.9"/>
<circle cx="541.8" cy="470.4" r="3.9"/>
<circle cx="519.2" cy="484.1" r="3.9"/>
<circle cx="525.8" cy="483.1" r="3.9"/>
<circle cx="524.9" cy="491.6" r="3.9"/>
<circle cx="520.2" cy="496.3" r="3.9"/>
<circle cx="525.8" cy="497.3" r="3.9"/>
<circle cx="494.7" cy="491.6" r="3.9"/>
<circle cx="499.4" cy="497.3" r="3.9"/>
<circle cx="532.4" cy="506.7" r="3.9"/>
<circle cx="537.1" cy="506.2" r="3.9"/>
<circle cx="541.8" cy="514.2" r="3.9"/>
<circle cx="540.0" cy="519.9" r="3.9"/>
<circle cx="533.4" cy="521.8" r="3.9"/>
<circle cx="533.4" cy="528.4" r="3.9"/>
<circle cx="515.5" cy="523.2" r="3.9"/>
<circle cx="505.1" cy="529.8" r="3.9"/>
<circle cx="551.3" cy="534.0" r="3.9"/>
<circle cx="540.0" cy="538.7" r="3.9"/>
<circle cx="526.8" cy="542.5" r="3.9"/>
<circle cx="529.6" cy="547.2" r="3.9"/>
<circle cx="531.5" cy="551.0" r="3.9"/>
<circle cx="551.3" cy="544.4" r="3.9"/>
<circle cx="501.3" cy="553.8" r="3.9"/>
<circle cx="518.3" cy="554.7" r="3.9"/>
<circle cx="540.9" cy="555.7" r="3.9"/>
<circle cx="527.7" cy="558.5" r="3.9"/>
<circle cx="558.8" cy="427.5" r="3.9"/>
<circle cx="562.6" cy="423.8" r="3.9"/>
<circle cx="559.7" cy="435.1" r="3.9"/>
<circle cx="556.0" cy="443.6" r="3.9"/>
<circle cx="566.3" cy="446.9" r="3.9"/>
<circle cx="556.9" cy="454.4" r="3.9"/>
<circle cx="556.9" cy="469.5" r="3.9"/>
<circle cx="561.6" cy="472.3" r="3.9"/>
<circle cx="569.6" cy="475.1" r="3.9"/>
<circle cx="579.5" cy="451.1" r="3.9"/>
<circle cx="577.7" cy="460.5" r="3.9"/>
<circle cx="577.7" cy="469.5" r="3.9"/>
<circle cx="566.3" cy="486.0" r="3.9"/>
<circle cx="573.9" cy="484.1" r="3.9"/>
<circle cx="579.5" cy="487.4" r="3.9"/>
<circle cx="556.9" cy="491.6" r="3.9"/>
<circle cx="552.2" cy="499.2" r="3.9"/>
<circle cx="571.1" cy="495.4" r="3.9"/>
<circle cx="572.0" cy="503.9" r="3.9"/>
<circle cx="562.6" cy="539.7" r="3.9"/>
<circle cx="565.4" cy="535.9" r="3.9"/>
<circle cx="576.7" cy="535.4" r="3.9"/>
<circle cx="580.5" cy="533.1" r="3.9"/>
<circle cx="573.9" cy="544.4" r="3.9"/>
<circle cx="567.3" cy="551.0" r="3.9"/>
<circle cx="572.0" cy="549.1" r="3.9"/>
<circle cx="558.8" cy="555.7" r="3.9"/>
<circle cx="601.0" cy="424.2" r="3.9"/>
<circle cx="613.3" cy="422.8" r="3.9"/>
<circle cx="626.9" cy="424.7" r="3.9"/>
<circle cx="653.8" cy="423.8" r="3.9"/>
<circle cx="716.0" cy="421.4" r="3.9"/>
<circle cx="720.7" cy="426.1" r="3.9"/>
<circle cx="599.1" cy="430.8" r="3.9"/>
<circle cx="632.1" cy="433.2" r="3.9"/>
<circle cx="652.8" cy="435.5" r="3.9"/>
<circle cx="673.1" cy="435.5" r="3.9"/>
<circle cx="680.2" cy="437.0" r="3.9"/>
<circle cx="647.7" cy="443.1" r="3.9"/>
<circle cx="703.7" cy="430.8" r="3.9"/>
<circle cx="715.0" cy="438.8" r="3.9"/>
<circle cx="709.4" cy="446.9" r="3.9"/>
<circle cx="719.7" cy="453.9" r="3.9"/>
<circle cx="604.3" cy="451.6" r="3.9"/>
<circle cx="618.0" cy="449.2" r="3.9"/>
<circle cx="626.0" cy="447.8" r="3.9"/>
<circle cx="643.0" cy="452.5" r="3.9"/>
<circle cx="651.4" cy="451.6" r="3.9"/>
<circle cx="646.7" cy="457.2" r="3.9"/>
<circle cx="674.5" cy="450.2" r="3.9"/>
<circle cx="671.2" cy="463.3" r="3.9"/>
<circle cx="591.6" cy="462.4" r="3.9"/>
<circle cx="592.1" cy="468.1" r="3.9"/>
<circle cx="606.2" cy="465.2" r="3.9"/>
<circle cx="595.4" cy="475.6" r="3.9"/>
<circle cx="600.1" cy="474.7" r="3.9"/>
<circle cx="630.2" cy="459.6" r="3.9"/>
<circle cx="634.9" cy="469.0" r="3.9"/>
<circle cx="648.6" cy="476.1" r="3.9"/>
<circle cx="709.4" cy="459.6" r="3.9"/>
<circle cx="714.1" cy="468.5" r="3.9"/>
<circle cx="726.3" cy="464.8" r="3.9"/>
<circle cx="727.3" cy="475.6" r="3.9"/>
<circle cx="709.4" cy="482.2" r="3.9"/>
<circle cx="726.8" cy="483.1" r="3.9"/>
<circle cx="650.5" cy="487.8" r="3.9"/>
<circle cx="688.2" cy="491.1" r="3.9"/>
<circle cx="728.2" cy="497.7" r="3.9"/>
<circle cx="640.6" cy="498.7" r="3.9"/>
<circle cx="637.3" cy="506.7" r="3.9"/>
<circle cx="647.2" cy="510.0" r="3.9"/>
<circle cx="649.1" cy="514.7" r="3.9"/>
<circle cx="591.6" cy="508.1" r="3.9"/>
<circle cx="601.0" cy="503.9" r="3.9"/>
<circle cx="599.1" cy="509.5" r="3.9"/>
<circle cx="603.8" cy="507.2" r="3.9"/>
<circle cx="673.6" cy="514.7" r="3.9"/>
<circle cx="680.2" cy="509.5" r="3.9"/>
<circle cx="683.0" cy="509.5" r="3.9"/>
<circle cx="687.7" cy="501.0" r="3.9"/>
<circle cx="689.6" cy="505.3" r="3.9"/>
<circle cx="702.3" cy="498.7" r="3.9"/>
<circle cx="706.6" cy="506.2" r="3.9"/>
<circle cx="703.7" cy="502.0" r="3.9"/>
<circle cx="605.7" cy="519.4" r="3.9"/>
<circle cx="599.1" cy="526.0" r="3.9"/>
<circle cx="593.0" cy="529.8" r="3.9"/>
<circle cx="604.8" cy="539.2" r="3.9"/>
<circle cx="589.2" cy="548.6" r="3.9"/>
<circle cx="605.7" cy="549.1" r="3.9"/>
<circle cx="636.8" cy="536.8" r="3.9"/>
<circle cx="638.7" cy="541.6" r="3.9"/>
<circle cx="653.3" cy="533.5" r="3.9"/>
<circle cx="667.0" cy="535.4" r="3.9"/>
<circle cx="653.3" cy="544.4" r="3.9"/>
<circle cx="646.2" cy="549.6" r="3.9"/>
<circle cx="708.4" cy="525.1" r="3.9"/>
<circle cx="727.3" cy="524.6" r="3.9"/>
<circle cx="722.6" cy="531.7" r="3.9"/>
<circle cx="738.6" cy="535.0" r="3.9"/>
<circle cx="703.3" cy="539.2" r="3.9"/>
<circle cx="711.7" cy="536.4" r="3.9"/>
<circle cx="712.2" cy="544.4" r="3.9"/>
<circle cx="719.7" cy="543.4" r="3.9"/>
<circle cx="727.3" cy="541.6" r="3.9"/>
<circle cx="714.1" cy="550.0" r="3.9"/>
<circle cx="705.6" cy="555.7" r="3.9"/>
<circle cx="615.2" cy="558.5" r="3.9"/>
<circle cx="644.4" cy="558.5" r="3.9"/>
<circle cx="689.6" cy="558.5" r="3.9"/>
<circle cx="443.4" cy="574.6" r="3.9"/>
<circle cx="448.1" cy="589.7" r="3.9"/>
<circle cx="457.0" cy="564.7" r="3.9"/>
<circle cx="500.4" cy="569.0" r="3.9"/>
<circle cx="505.1" cy="567.5" r="3.9"/>
<circle cx="514.0" cy="567.1" r="3.9"/>
<circle cx="521.1" cy="578.8" r="3.9"/>
<circle cx="525.8" cy="570.4" r="3.9"/>
<circle cx="531.5" cy="572.2" r="3.9"/>
<circle cx="540.0" cy="568.5" r="3.9"/>
<circle cx="541.8" cy="577.0" r="3.9"/>
<circle cx="535.2" cy="582.1" r="3.9"/>
<circle cx="552.2" cy="575.1" r="3.9"/>
<circle cx="557.9" cy="577.0" r="3.9"/>
<circle cx="561.6" cy="564.2" r="3.9"/>
<circle cx="575.8" cy="564.2" r="3.9"/>
<circle cx="577.7" cy="574.1" r="3.9"/>
<circle cx="491.0" cy="568.5" r="3.9"/>
<circle cx="492.8" cy="577.9" r="3.9"/>
<circle cx="496.6" cy="578.8" r="3.9"/>
<circle cx="481.5" cy="574.1" r="3.9"/>
<circle cx="481.5" cy="582.6" r="3.9"/>
<circle cx="476.8" cy="588.3" r="3.9"/>
<circle cx="476.8" cy="596.3" r="3.9"/>
<circle cx="491.0" cy="588.3" r="3.9"/>
<circle cx="487.2" cy="586.4" r="3.9"/>
<circle cx="504.2" cy="584.0" r="3.9"/>
<circle cx="518.3" cy="592.5" r="3.9"/>
<circle cx="522.1" cy="600.5" r="3.9"/>
<circle cx="520.2" cy="603.3" r="3.9"/>
<circle cx="531.5" cy="592.0" r="3.9"/>
<circle cx="538.1" cy="599.6" r="3.9"/>
<circle cx="542.8" cy="591.1" r="3.9"/>
<circle cx="554.1" cy="589.2" r="3.9"/>
<circle cx="557.9" cy="593.0" r="3.9"/>
<circle cx="571.1" cy="596.3" r="3.9"/>
<circle cx="485.3" cy="609.0" r="3.9"/>
<circle cx="495.7" cy="606.2" r="3.9"/>
<circle cx="498.5" cy="611.8" r="3.9"/>
<circle cx="492.8" cy="616.5" r="3.9"/>
<circle cx="496.6" cy="622.2" r="3.9"/>
<circle cx="478.7" cy="618.9" r="3.9"/>
<circle cx="475.9" cy="625.0" r="3.9"/>
<circle cx="535.7" cy="612.3" r="3.9"/>
<circle cx="541.8" cy="618.4" r="3.9"/>
<circle cx="553.2" cy="611.8" r="3.9"/>
<circle cx="558.8" cy="611.8" r="3.9"/>
<circle cx="556.9" cy="618.4" r="3.9"/>
<circle cx="562.6" cy="623.1" r="3.9"/>
<circle cx="580.5" cy="611.4" r="3.9"/>
<circle cx="534.3" cy="631.1" r="3.9"/>
<circle cx="540.9" cy="628.8" r="3.9"/>
<circle cx="541.8" cy="631.6" r="3.9"/>
<circle cx="443.8" cy="626.9" r="3.9"/>
<circle cx="448.6" cy="625.0" r="3.9"/>
<circle cx="454.2" cy="625.0" r="3.9"/>
<circle cx="453.7" cy="634.4" r="3.9"/>
<circle cx="452.8" cy="640.1" r="3.9"/>
<circle cx="448.6" cy="650.5" r="3.9"/>
<circle cx="449.5" cy="658.9" r="3.9"/>
<circle cx="449.0" cy="652.3" r="3.9"/>
<circle cx="477.8" cy="644.3" r="3.9"/>
<circle cx="502.3" cy="636.8" r="3.9"/>
<circle cx="505.1" cy="643.4" r="3.9"/>
<circle cx="504.6" cy="649.5" r="3.9"/>
<circle cx="515.0" cy="636.3" r="3.9"/>
<circle cx="533.4" cy="643.9" r="3.9"/>
<circle cx="516.4" cy="650.0" r="3.9"/>
<circle cx="523.9" cy="653.3" r="3.9"/>
<circle cx="530.5" cy="658.0" r="3.9"/>
<circle cx="539.0" cy="652.8" r="3.9"/>
<circle cx="554.1" cy="640.1" r="3.9"/>
<circle cx="552.2" cy="642.9" r="3.9"/>
<circle cx="568.2" cy="643.9" r="3.9"/>
<circle cx="572.9" cy="638.2" r="3.9"/>
<circle cx="577.7" cy="641.0" r="3.9"/>
<circle cx="483.4" cy="658.9" r="3.9"/>
<circle cx="491.0" cy="657.1" r="3.9"/>
<circle cx="496.6" cy="657.1" r="3.9"/>
<circle cx="481.5" cy="667.4" r="3.9"/>
<circle cx="487.2" cy="664.6" r="3.9"/>
<circle cx="490.0" cy="670.2" r="3.9"/>
<circle cx="485.3" cy="671.2" r="3.9"/>
<circle cx="515.5" cy="667.4" r="3.9"/>
<circle cx="522.1" cy="663.7" r="3.9"/>
<circle cx="527.7" cy="670.2" r="3.9"/>
<circle cx="532.4" cy="674.0" r="3.9"/>
<circle cx="535.2" cy="678.7" r="3.9"/>
<circle cx="536.2" cy="682.5" r="3.9"/>
<circle cx="556.9" cy="661.3" r="3.9"/>
<circle cx="572.9" cy="659.9" r="3.9"/>
<circle cx="555.0" cy="671.7" r="3.9"/>
<circle cx="553.2" cy="675.9" r="3.9"/>
<circle cx="558.8" cy="681.6" r="3.9"/>
<circle cx="579.5" cy="673.5" r="3.9"/>
<circle cx="462.2" cy="668.8" r="3.9"/>
<circle cx="479.2" cy="677.3" r="3.9"/>
<circle cx="504.2" cy="675.0" r="3.9"/>
<circle cx="448.6" cy="681.1" r="3.9"/>
<circle cx="464.1" cy="682.5" r="3.9"/>
<circle cx="615.2" cy="560.9" r="3.9"/>
<circle cx="643.9" cy="562.4" r="3.9"/>
<circle cx="627.4" cy="567.1" r="3.9"/>
<circle cx="595.4" cy="574.1" r="3.9"/>
<circle cx="601.5" cy="576.0" r="3.9"/>
<circle cx="609.0" cy="574.1" r="3.9"/>
<circle cx="594.0" cy="582.6" r="3.9"/>
<circle cx="628.3" cy="581.2" r="3.9"/>
<circle cx="636.8" cy="581.2" r="3.9"/>
<circle cx="643.4" cy="583.6" r="3.9"/>
<circle cx="677.8" cy="579.8" r="3.9"/>
<circle cx="684.9" cy="566.6" r="3.9"/>
<circle cx="689.6" cy="561.9" r="3.9"/>
<circle cx="709.4" cy="571.3" r="3.9"/>
<circle cx="723.5" cy="568.5" r="3.9"/>
<circle cx="729.2" cy="569.9" r="3.9"/>
<circle cx="716.9" cy="561.4" r="3.9"/>
<circle cx="725.4" cy="560.9" r="3.9"/>
<circle cx="634.0" cy="588.3" r="3.9"/>
<circle cx="645.3" cy="588.3" r="3.9"/>
<circle cx="671.7" cy="589.2" r="3.9"/>
<circle cx="611.4" cy="593.9" r="3.9"/>
<circle cx="590.7" cy="600.5" r="3.9"/>
<circle cx="593.0" cy="601.5" r="3.9"/>
<circle cx="597.7" cy="607.6" r="3.9"/>
<circle cx="705.1" cy="581.7" r="3.9"/>
<circle cx="712.2" cy="582.6" r="3.9"/>
<circle cx="704.2" cy="587.3" r="3.9"/>
<circle cx="726.3" cy="578.8" r="3.9"/>
<circle cx="727.8" cy="583.6" r="3.9"/>
<circle cx="691.0" cy="594.9" r="3.9"/>
<circle cx="708.9" cy="600.5" r="3.9"/>
<circle cx="728.2" cy="601.0" r="3.9"/>
<circle cx="721.6" cy="603.8" r="3.9"/>
<circle cx="718.8" cy="609.0" r="3.9"/>
<circle cx="633.1" cy="607.6" r="3.9"/>
<circle cx="637.8" cy="614.2" r="3.9"/>
<circle cx="643.9" cy="619.4" r="3.9"/>
<circle cx="646.2" cy="611.8" r="3.9"/>
<circle cx="654.3" cy="606.2" r="3.9"/>
<circle cx="653.3" cy="617.0" r="3.9"/>
<circle cx="651.9" cy="611.4" r="3.9"/>
<circle cx="613.3" cy="612.3" r="3.9"/>
<circle cx="667.0" cy="619.4" r="3.9"/>
<circle cx="682.5" cy="615.6" r="3.9"/>
<circle cx="703.7" cy="615.1" r="3.9"/>
<circle cx="701.8" cy="632.6" r="3.9"/>
<circle cx="650.5" cy="637.7" r="3.9"/>
<circle cx="667.0" cy="641.0" r="3.9"/>
<circle cx="668.4" cy="648.6" r="3.9"/>
<circle cx="639.7" cy="643.4" r="3.9"/>
<circle cx="637.8" cy="650.5" r="3.9"/>
<circle cx="644.4" cy="654.2" r="3.9"/>
<circle cx="590.7" cy="642.4" r="3.9"/>
<circle cx="605.3" cy="643.4" r="3.9"/>
<circle cx="600.1" cy="648.6" r="3.9"/>
<circle cx="616.1" cy="648.6" r="3.9"/>
<circle cx="596.8" cy="659.9" r="3.9"/>
<circle cx="608.6" cy="654.2" r="3.9"/>
<circle cx="711.3" cy="650.9" r="3.9"/>
<circle cx="718.8" cy="654.2" r="3.9"/>
<circle cx="729.2" cy="658.5" r="3.9"/>
<circle cx="743.3" cy="645.3" r="3.9"/>
<circle cx="590.2" cy="675.9" r="3.9"/>
<circle cx="604.3" cy="671.2" r="3.9"/>
<circle cx="615.6" cy="674.0" r="3.9"/>
<circle cx="616.1" cy="678.7" r="3.9"/>
<circle cx="633.1" cy="672.1" r="3.9"/>
<circle cx="638.7" cy="672.6" r="3.9"/>
<circle cx="640.6" cy="677.8" r="3.9"/>
<circle cx="664.2" cy="671.7" r="3.9"/>
<circle cx="673.1" cy="672.1" r="3.9"/>
<circle cx="676.4" cy="679.2" r="3.9"/>
<circle cx="688.7" cy="678.7" r="3.9"/>
<circle cx="693.8" cy="682.5" r="3.9"/>
<circle cx="702.3" cy="677.3" r="3.9"/>
<circle cx="707.5" cy="669.8" r="3.9"/>
<circle cx="717.4" cy="672.6" r="3.9"/>
<circle cx="716.9" cy="684.4" r="3.9"/>
<circle cx="721.2" cy="681.6" r="3.9"/>
<circle cx="749.7" cy="294.6" r="3.9"/>
<circle cx="805.1" cy="293.5" r="3.9"/>
<circle cx="831.3" cy="294.2" r="3.9"/>
<circle cx="790.9" cy="308.2" r="3.9"/>
<circle cx="856.6" cy="310.9" r="3.9"/>
<circle cx="897.7" cy="308.2" r="3.9"/>
<circle cx="830.5" cy="337.8" r="3.9"/>
<circle cx="832.8" cy="345.7" r="3.9"/>
<circle cx="854.2" cy="341.7" r="3.9"/>
<circle cx="776.7" cy="350.0" r="3.9"/>
<circle cx="971.3" cy="349.6" r="3.9"/>
<circle cx="992.7" cy="346.5" r="3.9"/>
<circle cx="976.1" cy="363.1" r="3.9"/>
<circle cx="980.0" cy="363.1" r="3.9"/>
<circle cx="1125.7" cy="378.1" r="3.9"/>
<circle cx="1055.2" cy="392.7" r="3.9"/>
<circle cx="827.3" cy="392.1" r="3.9"/>
<circle cx="840.0" cy="406.1" r="3.9"/>
<circle cx="980.8" cy="414.5" r="3.9"/>
<circle cx="980.8" cy="418.0" r="3.9"/>
<circle cx="1013.3" cy="409.5" r="3.9"/>
<circle cx="891.4" cy="435.9" r="3.9"/>
<circle cx="944.4" cy="444.6" r="3.9"/>
<circle cx="752.1" cy="470.7" r="3.9"/>
<circle cx="817.0" cy="470.7" r="3.9"/>
<circle cx="826.5" cy="491.6" r="3.9"/>
<circle cx="966.6" cy="493.2" r="3.9"/>
<circle cx="764.8" cy="516.9" r="3.9"/>
<circle cx="749.7" cy="531.9" r="3.9"/>
<circle cx="783.0" cy="539.9" r="3.9"/>
<circle cx="830.5" cy="547.0" r="3.9"/>
<circle cx="855.8" cy="551.4" r="3.9"/>
<circle cx="910.9" cy="552.2" r="3.9"/>
<circle cx="988.8" cy="536.2" r="3.9"/>
<circle cx="1020.4" cy="556.8" r="3.9"/>
<circle cx="1132.0" cy="518.5" r="3.9"/>
<circle cx="749.0" cy="571.0" r="3.9"/>
<circle cx="794.1" cy="567.9" r="3.9"/>
<circle cx="838.4" cy="571.8" r="3.9"/>
<circle cx="765.6" cy="580.7" r="3.9"/>
<circle cx="819.4" cy="579.4" r="3.9"/>
<circle cx="906.8" cy="575.5" r="3.9"/>
<circle cx="910.7" cy="587.3" r="3.9"/>
<circle cx="966.6" cy="579.4" r="3.9"/>
<circle cx="978.8" cy="576.6" r="3.9"/>
<circle cx="990.3" cy="579.7" r="3.9"/>
<circle cx="1018.0" cy="590.2" r="3.9"/>
<circle cx="1094.8" cy="574.2" r="3.9"/>
<circle cx="783.8" cy="594.5" r="3.9"/>
<circle cx="834.4" cy="597.3" r="3.9"/>
<circle cx="749.0" cy="601.6" r="3.9"/>
<circle cx="984.8" cy="607.9" r="3.9"/>
<circle cx="977.7" cy="613.8" r="3.9"/>
<circle cx="971.3" cy="615.4" r="3.9"/>
<circle cx="1127.2" cy="611.1" r="3.9"/>
<circle cx="748.2" cy="637.2" r="3.9"/>
<circle cx="748.2" cy="646.7" r="3.9"/>
<circle cx="825.7" cy="654.6" r="3.9"/>
<circle cx="788.5" cy="661.7" r="3.9"/>
<circle cx="833.2" cy="666.8" r="3.9"/>
<circle cx="755.3" cy="672.8" r="3.9"/>
<circle cx="805.1" cy="682.8" r="3.9"/>
<circle cx="818.1" cy="681.5" r="3.9"/>
<circle cx="915.2" cy="679.9" r="3.9"/>
<circle cx="979.3" cy="650.3" r="3.9"/>
<circle cx="978.5" cy="675.5" r="3.9"/>
<circle cx="1066.3" cy="660.6" r="3.9"/>
<circle cx="1207.2" cy="346.1" r="3.9"/>
<circle cx="1347.2" cy="368.1" r="3.9"/>
<circle cx="1313.2" cy="415.6" r="3.9"/>
<circle cx="1518.4" cy="365.6" r="3.9"/>
<circle cx="1516.5" cy="396.6" r="3.9"/>
<circle cx="1501.1" cy="424.0" r="3.9"/>
<circle cx="1491.3" cy="457.8" r="3.9"/>
<circle cx="1510.8" cy="454.2" r="3.9"/>
<circle cx="1240.5" cy="513.5" r="3.9"/>
<circle cx="1268.9" cy="572.0" r="3.9"/>
<circle cx="1236.9" cy="582.0" r="3.9"/>
<circle cx="1502.7" cy="601.5" r="3.9"/>
<circle cx="1309.5" cy="671.3" r="3.9"/>
<circle cx="434.7" cy="875.8" r="3.9"/>
<circle cx="438.2" cy="877.4" r="3.9"/>
<circle cx="436.7" cy="914.5" r="3.9"/>
<circle cx="449.1" cy="949.5" r="3.9"/>
<circle cx="473.1" cy="907.1" r="3.9"/>
<circle cx="497.3" cy="898.4" r="3.9"/>
<circle cx="513.9" cy="909.7" r="3.9"/>
<circle cx="518.5" cy="907.6" r="3.9"/>
<circle cx="521.0" cy="934.4" r="3.9"/>
<circle cx="498.6" cy="947.5" r="3.9"/>
<circle cx="538.2" cy="947.5" r="3.9"/>
<circle cx="473.6" cy="962.2" r="3.9"/>
<circle cx="480.1" cy="962.2" r="3.9"/>
<circle cx="497.3" cy="966.2" r="3.9"/>
<circle cx="549.3" cy="885.2" r="3.9"/>
<circle cx="563.9" cy="881.9" r="3.9"/>
<circle cx="566.9" cy="877.4" r="3.9"/>
<circle cx="587.1" cy="910.7" r="3.9"/>
<circle cx="599.3" cy="909.7" r="3.9"/>
<circle cx="612.4" cy="938.4" r="3.9"/>
<circle cx="607.3" cy="977.8" r="3.9"/>
<circle cx="493.7" cy="981.8" r="3.9"/>
<circle cx="497.8" cy="986.4" r="3.9"/>
<circle cx="523.5" cy="982.4" r="3.9"/>
<circle cx="534.6" cy="988.9" r="3.9"/>
<circle cx="434.2" cy="1017.5" r="3.9"/>
<circle cx="477.6" cy="1006.2" r="3.9"/>
<circle cx="477.6" cy="1013.4" r="3.9"/>
<circle cx="490.7" cy="1015.2" r="3.9"/>
<circle cx="518.5" cy="1014.0" r="3.9"/>
<circle cx="534.1" cy="1012.2" r="3.9"/>
<circle cx="536.7" cy="1001.1" r="3.9"/>
<circle cx="551.8" cy="1004.1" r="3.9"/>
<circle cx="611.9" cy="999.6" r="3.9"/>
<circle cx="556.8" cy="1032.9" r="3.9"/>
<circle cx="574.0" cy="1029.4" r="3.9"/>
<circle cx="509.4" cy="1040.8" r="3.9"/>
<circle cx="450.8" cy="1047.3" r="3.9"/>
<circle cx="487.2" cy="1050.4" r="3.9"/>
<circle cx="601.8" cy="1052.4" r="3.9"/>
<circle cx="473.6" cy="1069.8" r="3.9"/>
<circle cx="481.1" cy="1067.7" r="3.9"/>
<circle cx="558.9" cy="1063.2" r="3.9"/>
<circle cx="523.5" cy="1071.8" r="3.9"/>
<circle cx="444.3" cy="1083.4" r="3.9"/>
<circle cx="484.7" cy="1084.4" r="3.9"/>
<circle cx="471.0" cy="1091.5" r="3.9"/>
<circle cx="532.1" cy="1088.4" r="3.9"/>
<circle cx="456.9" cy="1107.1" r="3.9"/>
<circle cx="510.4" cy="1107.6" r="3.9"/>
<circle cx="521.0" cy="1109.6" r="3.9"/>
<circle cx="574.5" cy="1106.1" r="3.9"/>
<circle cx="438.2" cy="1116.2" r="3.9"/>
<circle cx="527.1" cy="1122.8" r="3.9"/>
<circle cx="556.3" cy="1123.3" r="3.9"/>
<circle cx="535.6" cy="1130.8" r="3.9"/>
<circle cx="554.8" cy="1132.4" r="3.9"/>
<circle cx="515.5" cy="1132.4" r="3.9"/>
<circle cx="477.6" cy="1129.8" r="3.9"/>
<circle cx="488.7" cy="1134.9" r="3.9"/>
<circle cx="442.8" cy="1138.4" r="3.9"/>
<circle cx="530.6" cy="1137.4" r="3.9"/>
<circle cx="493.2" cy="1143.0" r="3.9"/>
<circle cx="554.8" cy="1146.6" r="3.9"/>
<circle cx="546.8" cy="1150.1" r="3.9"/>
<circle cx="520.5" cy="1153.1" r="3.9"/>
<circle cx="487.2" cy="1160.7" r="3.9"/>
<circle cx="501.3" cy="1165.2" r="3.9"/>
<circle cx="529.6" cy="1166.8" r="3.9"/>
<circle cx="512.9" cy="1173.3" r="3.9"/>
<circle cx="447.8" cy="1187.5" r="3.9"/>
<circle cx="459.9" cy="1190.0" r="3.9"/>
<circle cx="454.4" cy="1193.5" r="3.9"/>
<circle cx="455.9" cy="1200.6" r="3.9"/>
<circle cx="475.6" cy="1197.5" r="3.9"/>
<circle cx="519.5" cy="1200.6" r="3.9"/>
<circle cx="550.8" cy="1195.5" r="3.9"/>
<circle cx="550.3" cy="1203.6" r="3.9"/>
<circle cx="553.3" cy="1207.6" r="3.9"/>
<circle cx="567.4" cy="1208.7" r="3.9"/>
<circle cx="492.2" cy="1209.7" r="3.9"/>
<circle cx="499.8" cy="1209.7" r="3.9"/>
<circle cx="493.7" cy="1214.7" r="3.9"/>
<circle cx="500.3" cy="1218.7" r="3.9"/>
<circle cx="475.1" cy="1218.2" r="3.9"/>
<circle cx="611.4" cy="1215.2" r="3.9"/>
<circle cx="611.4" cy="1234.4" r="3.9"/>
<circle cx="604.3" cy="1264.2" r="3.9"/>
<circle cx="555.8" cy="1254.6" r="3.9"/>
<circle cx="446.3" cy="1242.5" r="3.9"/>
<circle cx="439.7" cy="1248.5" r="3.9"/>
<circle cx="473.6" cy="1250.6" r="3.9"/>
<circle cx="485.7" cy="1249.0" r="3.9"/>
<circle cx="515.5" cy="1252.6" r="3.9"/>
<circle cx="534.6" cy="1242.0" r="3.9"/>
<circle cx="475.6" cy="1262.2" r="3.9"/>
<circle cx="650.6" cy="879.4" r="3.9"/>
<circle cx="705.1" cy="889.7" r="3.9"/>
<circle cx="627.9" cy="910.4" r="3.9"/>
<circle cx="627.4" cy="917.5" r="3.9"/>
<circle cx="630.9" cy="975.1" r="3.9"/>
<circle cx="679.4" cy="972.5" r="3.9"/>
<circle cx="735.1" cy="966.0" r="3.9"/>
<circle cx="819.0" cy="926.6" r="3.9"/>
<circle cx="817.9" cy="956.9" r="3.9"/>
<circle cx="888.3" cy="960.8" r="3.9"/>
<circle cx="895.2" cy="991.4" r="3.9"/>
<circle cx="797.5" cy="1000.5" r="3.9"/>
<circle cx="633.2" cy="1067.3" r="3.9"/>
<circle cx="701.6" cy="1083.5" r="3.9"/>
<circle cx="629.7" cy="1094.8" r="3.9"/>
<circle cx="709.6" cy="1119.2" r="3.9"/>
<circle cx="705.9" cy="1125.6" r="3.9"/>
<circle cx="712.7" cy="1140.3" r="3.9"/>
<circle cx="687.7" cy="1239.9" r="3.9"/>
<circle cx="668.0" cy="1252.0" r="3.9"/>
<circle cx="639.2" cy="1252.0" r="3.9"/>
<circle cx="1008.9" cy="944.8" r="3.9"/>
<circle cx="983.8" cy="1110.2" r="3.9"/>
<circle cx="1303.6" cy="1008.7" r="3.9"/>
<circle cx="1497.4" cy="937.5" r="3.9"/>
<circle cx="1393.6" cy="1124.1" r="3.9"/>
<circle cx="1322.7" cy="1217.7" r="3.9"/>
<circle cx="1493.5" cy="1219.2" r="3.9"/>
</g>
<path d="M592.8,486.6 L616.4,463.0 L640.0,486.6 L616.4,510.20000000000005 Z" fill="#FEDF8E" stroke="#000" stroke-width="4.3" stroke-linejoin="miter"/>
<path d="M565.1999999999999,1073 L588.8,1049.4 L612.4,1073 L588.8,1096.6 Z" fill="#FEDF8E" stroke="#000" stroke-width="4.3" stroke-linejoin="miter"/>
<line x1="626.6" y1="247" x2="576.3" y2="1288.3" stroke="#A9002A" stroke-width="9" stroke-dasharray="18.2 19" stroke-dashoffset="8.6"/>
<line x1="380" y1="11" x2="380" y2="1342.5" stroke="#000" stroke-width="5"/>
<line x1="377.5" y1="1340" x2="1567.5" y2="1340" stroke="#000" stroke-width="5"/>
<line x1="448.6" y1="1342" x2="448.6" y2="1353" stroke="#333" stroke-width="4.6"/>
<line x1="824.6" y1="1342" x2="824.6" y2="1353" stroke="#333" stroke-width="4.6"/>
<line x1="1200.9" y1="1342" x2="1200.9" y2="1353" stroke="#333" stroke-width="4.6"/>
<line x1="367.3" y1="486.6" x2="378" y2="486.6" stroke="#333" stroke-width="4.5"/>
<line x1="367.3" y1="1076.9" x2="378" y2="1076.9" stroke="#333" stroke-width="4.5"/>
<text x="450.9" y="1398" font-size="53.5" fill="#4D4D4D" text-anchor="middle">0</text>
<text x="831.3" y="1398" font-size="53.5" fill="#4D4D4D" text-anchor="middle">10</text>
<text x="1205.7" y="1398" font-size="53.5" fill="#4D4D4D" text-anchor="middle">20</text>
<text x="336.2" y="500.7" font-size="55.9" fill="#4D4D4D" text-anchor="end">Positive</text>
<text x="340.2" y="1090.3" font-size="55.9" fill="#4D4D4D" text-anchor="end">Negative</text>
<text x="331" y="1482.5" font-size="65" fill="#000">Typical frequency of visits to nature per week</text>
<text transform="translate(57.8,1364.2) rotate(-90)" font-size="64.8" fill="#000">Net positive or negative word association score</text>
<text y="52.6" font-size="52" fill="#000"><tspan x="438.6" font-style="italic">n</tspan><tspan x="478.3">=</tspan><tspan x="521.6">875</tspan></text>
<text x="1623.3" y="392" font-size="57.5" font-weight="bold" fill="#000">Key:</text>
<g filter="url(#shl)"><rect x="1631.3" y="542.4" width="58.9" height="59.7" fill="#000"/><rect x="1631.2" y="755.1" width="58.8" height="59.7" fill="#000"/>
<path d="M1628.5,978.6 C1629.1,977.3 1630.8,973.3 1632.2,970.6 C1633.6,967.9 1635.2,964.4 1636.9,962.5 C1638.6,960.6 1640.8,959.2 1642.6,959.1 C1644.4,959.0 1646.2,960.0 1647.7,961.8 C1649.2,963.6 1650.4,967.4 1651.7,969.9 C1653.0,972.4 1654.3,974.9 1655.8,976.6 C1657.3,978.3 1658.8,979.5 1660.5,980.0 C1662.2,980.5 1664.2,979.2 1665.9,979.7 C1667.6,980.2 1668.9,981.5 1670.6,982.7 C1672.3,983.9 1674.2,985.9 1676.0,986.7 C1677.8,987.5 1679.4,986.9 1681.3,987.4 C1683.2,987.9 1685.6,989.2 1687.4,990.0 C1689.2,990.8 1690.4,991.8 1692.1,992.0 C1693.8,992.2 1695.5,991.4 1697.5,991.3 C1699.5,991.2 1703.1,991.2 1704.2,991.2 L1704.2,995.2 C1703.1,995.2 1699.5,995.2 1697.5,995.1 C1695.5,995.0 1693.8,994.2 1692.1,994.4 C1690.4,994.6 1689.2,995.6 1687.4,996.4 C1685.6,997.2 1683.2,998.5 1681.3,999.0 C1679.4,999.6 1677.8,998.9 1676.0,999.7 C1674.2,1000.5 1672.3,1002.5 1670.6,1003.7 C1668.9,1004.9 1667.6,1006.2 1665.9,1006.7 C1664.2,1007.2 1662.2,1005.9 1660.5,1006.4 C1658.8,1006.9 1657.3,1008.1 1655.8,1009.8 C1654.3,1011.5 1653.0,1014.0 1651.7,1016.5 C1650.4,1019.0 1649.2,1022.8 1647.7,1024.6 C1646.2,1026.4 1644.4,1027.4 1642.6,1027.3 C1640.8,1027.2 1638.6,1025.8 1636.9,1023.9 C1635.2,1022.0 1633.6,1018.5 1632.2,1015.8 C1630.8,1013.1 1629.1,1009.1 1628.5,1007.8 Z" fill="#000" stroke="#000" stroke-width="3.4"/>
<path d="M1621,1196 L1661,1156 L1701,1196 L1661,1236 Z" fill="#000"/></g>
<rect x="1633.1" y="544.2" width="55.3" height="56.1" fill="#4393C3" stroke="#333" stroke-width="3.6"/>
<rect x="1633.45" y="757.35" width="54.3" height="55.2" fill="#D6604D" stroke="#000" stroke-width="4.5"/>
<path d="M1628.5,978.6 C1629.1,977.3 1630.8,973.3 1632.2,970.6 C1633.6,967.9 1635.2,964.4 1636.9,962.5 C1638.6,960.6 1640.8,959.2 1642.6,959.1 C1644.4,959.0 1646.2,960.0 1647.7,961.8 C1649.2,963.6 1650.4,967.4 1651.7,969.9 C1653.0,972.4 1654.3,974.9 1655.8,976.6 C1657.3,978.3 1658.8,979.5 1660.5,980.0 C1662.2,980.5 1664.2,979.2 1665.9,979.7 C1667.6,980.2 1668.9,981.5 1670.6,982.7 C1672.3,983.9 1674.2,985.9 1676.0,986.7 C1677.8,987.5 1679.4,986.9 1681.3,987.4 C1683.2,987.9 1685.6,989.2 1687.4,990.0 C1689.2,990.8 1690.4,991.8 1692.1,992.0 C1693.8,992.2 1695.5,991.4 1697.5,991.3 C1699.5,991.2 1703.1,991.2 1704.2,991.2 L1704.2,995.2 C1703.1,995.2 1699.5,995.2 1697.5,995.1 C1695.5,995.0 1693.8,994.2 1692.1,994.4 C1690.4,994.6 1689.2,995.6 1687.4,996.4 C1685.6,997.2 1683.2,998.5 1681.3,999.0 C1679.4,999.6 1677.8,998.9 1676.0,999.7 C1674.2,1000.5 1672.3,1002.5 1670.6,1003.7 C1668.9,1004.9 1667.6,1006.2 1665.9,1006.7 C1664.2,1007.2 1662.2,1005.9 1660.5,1006.4 C1658.8,1006.9 1657.3,1008.1 1655.8,1009.8 C1654.3,1011.5 1653.0,1014.0 1651.7,1016.5 C1650.4,1019.0 1649.2,1022.8 1647.7,1024.6 C1646.2,1026.4 1644.4,1027.4 1642.6,1027.3 C1640.8,1027.2 1638.6,1025.8 1636.9,1023.9 C1635.2,1022.0 1633.6,1018.5 1632.2,1015.8 C1630.8,1013.1 1629.1,1009.1 1628.5,1007.8 Z" fill="#E2E2EA" stroke="#333" stroke-width="3.4" stroke-linejoin="round"/>
<path d="M1623,1196 L1661,1158 L1699,1196 L1661,1234 Z" fill="#FEDF8E" stroke="#000" stroke-width="4.3"/>
<text x="1748.3" y="588.7" font-size="55.8" fill="#000">Net positive view of microbes</text>
<text x="1748.3" y="806.7" font-size="55.8" fill="#000">Net negative view of microbes</text>
<text x="1748.3" y="1010" font-size="55.8" fill="#000">Kernel density estimation</text>
<text x="1748.3" y="1213.9" font-size="55.8" fill="#000">Mean</text>
</svg></body></html>
